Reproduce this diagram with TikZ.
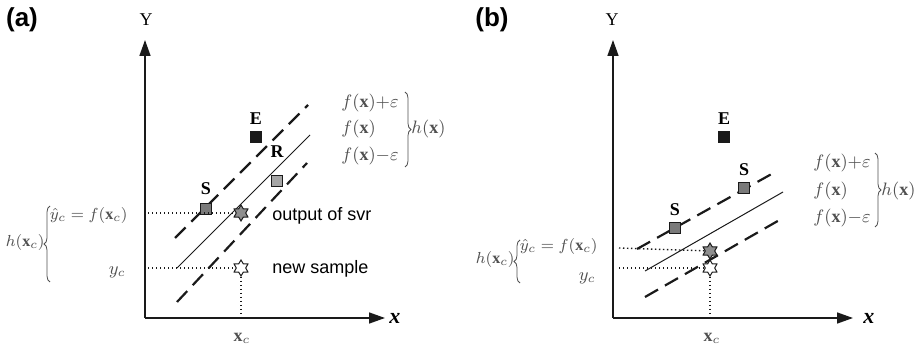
\documentclass[tikz,border=0pt]{standalone}
\usepackage{fontspec}
\setmainfont{Liberation Serif}
\setsansfont{Liberation Sans}
\usetikzlibrary{positioning,arrows.meta,shapes.geometric,decorations.pathreplacing}
\definecolor{ink}{HTML}{1A1A1A}
\definecolor{txt}{HTML}{505050}
\definecolor{sdk}{HTML}{7A7A7A}
\definecolor{rlt}{HTML}{A5A5A5}
\definecolor{sfl}{HTML}{8E8E8E}
\tikzset{
  ax/.style={draw=ink, line width=0.8pt, -{Triangle[length=8pt,width=5.5pt]}},
  dsh/.style={draw=ink, line width=1.1pt, dash pattern=on 7.5pt off 4pt},
  fx/.style={draw=ink, line width=0.5pt},
  guide/.style={draw=ink, line width=0.7pt, dash pattern=on 0.7pt off 1.3pt},
  sq/.style={draw=ink, line width=0.6pt, minimum size=5.5pt, inner sep=0pt},
  strs/.style={star, star points=6, star point ratio=1.7, draw=ink, line width=0.5pt, minimum size=8pt, inner sep=0pt},
  mth/.style={text=txt, font=\footnotesize, inner sep=1pt},
  rmth/.style={mth, font=\small, anchor=west},
  tag/.style={font=\bfseries\fontsize{9}{10}\selectfont, inner sep=0pt},
  pnl/.style={font=\sffamily\bfseries\fontsize{13}{14}\selectfont, inner sep=0pt},
  say/.style={anchor=west, font=\sffamily\fontsize{9}{10}\selectfont, inner sep=0pt},
  axl/.style={font=\fontsize{9}{10}\selectfont, inner sep=0pt},
  brc/.style={decorate, decoration={brace, amplitude=3pt}, draw=txt, line width=0.4pt}}

\begin{document}
\begin{tikzpicture}[x=0.5pt, y=-0.5pt]
\useasboundingbox (0,0) rectangle (917,347);
% panel (a)
\node[pnl] (pa) at (22,20) {(a)};
\coordinate (oa) at (145,318);
\coordinate (ya) at (145,40);
\coordinate (xa) at (385,318);
\draw[ax] (oa) -- (ya);
\draw[ax] (oa) -- (xa);
\node[axl] (Ya) at (146,20) {Y};
\node[anchor=west, font=\bfseries\itshape\fontsize{11}{12}\selectfont, inner sep=0pt] (xla) at (389,318) {x};
\coordinate (ua1) at (175,238); \coordinate (ua2) at (308,105);
\coordinate (ma1) at (177,268); \coordinate (ma2) at (310,135);
\coordinate (la1) at (177,302); \coordinate (la2) at (307,163);
\draw[dsh] (ua1) -- (ua2);
\draw[fx] (ma1) -- (ma2);
\draw[dsh] (la1) -- (la2);
\node[sq, fill=ink] (Ea) at (256,137) {};
\node[tag, above=3pt of Ea] (Eta) {E};
\node[sq, fill=rlt] (Ra) at (277,181) {};
\node[tag, above=8.5pt of Ra] (Rta) {R};
\node[sq, fill=sdk] (Sa) at (206,209) {};
\node[tag, above=4pt of Sa] (Sta) {S};
\node[strs, fill=sfl] (sva) at (241,213) {};
\node[strs, fill=white] (nsa) at (241,268) {};
\coordinate (ha1) at (148,213);
\coordinate (ha2) at (148,268);
\draw[guide] (ha1) -- (sva);
\draw[guide] (ha2) -- (nsa);
\draw[guide] (nsa) -- (nsa |- oa);
\node[say] (ta) at (272,216) {output of svr};
\node[say] (tb) at (272,269) {new sample};
\node[mth, font=\small] (xca) at (242,338) {$\mathbf{x}_c$};
\node[mth, anchor=east] (yha) at (130,216) {$\hat{y}_c = f(\mathbf{x}_c)$};
\node[mth, font=\small, anchor=east] (yca) at (128,272) {$y_c$};
\draw[brc] (50,282) -- (50,206);
\node[mth, anchor=east] (hca) at (47,243) {$h(\mathbf{x}_c)$};
\node[rmth] (fpa) at (339,103) {$f(\mathbf{x}){+}\varepsilon$};
\node[rmth] (fma) at (339,129) {$f(\mathbf{x})$};
\node[rmth] (fna) at (339,156) {$f(\mathbf{x}){-}\varepsilon$};
\draw[brc] (405,92) -- (405,167);
\node[rmth] (hxa) at (409,129) {$h(\mathbf{x})$};
% panel (b)
\node[pnl] (pb) at (492,20) {(b)};
\coordinate (ob) at (613,318);
\coordinate (yb) at (613,40);
\coordinate (xb) at (853,318);
\draw[ax] (ob) -- (yb);
\draw[ax] (ob) -- (xb);
\node[axl] (Yb) at (612,20) {Y};
\node[anchor=west, font=\bfseries\itshape\fontsize{11}{12}\selectfont, inner sep=0pt] (xlb) at (863,318) {x};
\coordinate (ub1) at (637,249); \coordinate (ub2) at (777,171);
\coordinate (mb1) at (645,271); \coordinate (mb2) at (783,192);
\coordinate (lb1) at (645,297); \coordinate (lb2) at (783,218);
\draw[dsh] (ub1) -- (ub2);
\draw[fx] (mb1) -- (mb2);
\draw[dsh] (lb1) -- (lb2);
\node[sq, fill=ink] (Eb) at (724,137) {};
\node[tag, above=3pt of Eb] (Etb) {E};
\node[sq, fill=sdk] (Sb) at (744,188) {};
\node[tag, above=3pt of Sb] (Stb) {S};
\node[sq, fill=sdk] (Sc) at (675,228) {};
\node[tag, above=3pt of Sc] (Stc) {S};
\node[strs, fill=sfl] (svb) at (710,251) {};
\node[strs, fill=white] (nsb) at (710,268) {};
\coordinate (hb1) at (619,248);
\coordinate (hb2) at (619,268);
\draw[guide] (hb1) -- (svb);
\draw[guide] (hb2) -- (nsb);
\draw[guide] (nsb) -- (nsb |- ob);
\node[mth, font=\small] (xcb) at (712,338) {$\mathbf{x}_c$};
\node[mth, anchor=east] (yhb) at (600,247) {$\hat{y}_c = f(\mathbf{x}_c)$};
\node[mth, font=\small, anchor=east] (ycb) at (598,278) {$y_c$};
\draw[brc] (520,283) -- (520,240);
\node[mth, anchor=east] (hcb) at (517,260) {$h(\mathbf{x}_c)$};
\node[rmth] (fpb) at (811,163) {$f(\mathbf{x}){+}\varepsilon$};
\node[rmth] (fmb) at (811,191) {$f(\mathbf{x})$};
\node[rmth] (fnb) at (811,218) {$f(\mathbf{x}){-}\varepsilon$};
\draw[brc] (875,153) -- (875,227);
\node[rmth] (hxb) at (879,191) {$h(\mathbf{x})$};
\end{tikzpicture}
\end{document}
